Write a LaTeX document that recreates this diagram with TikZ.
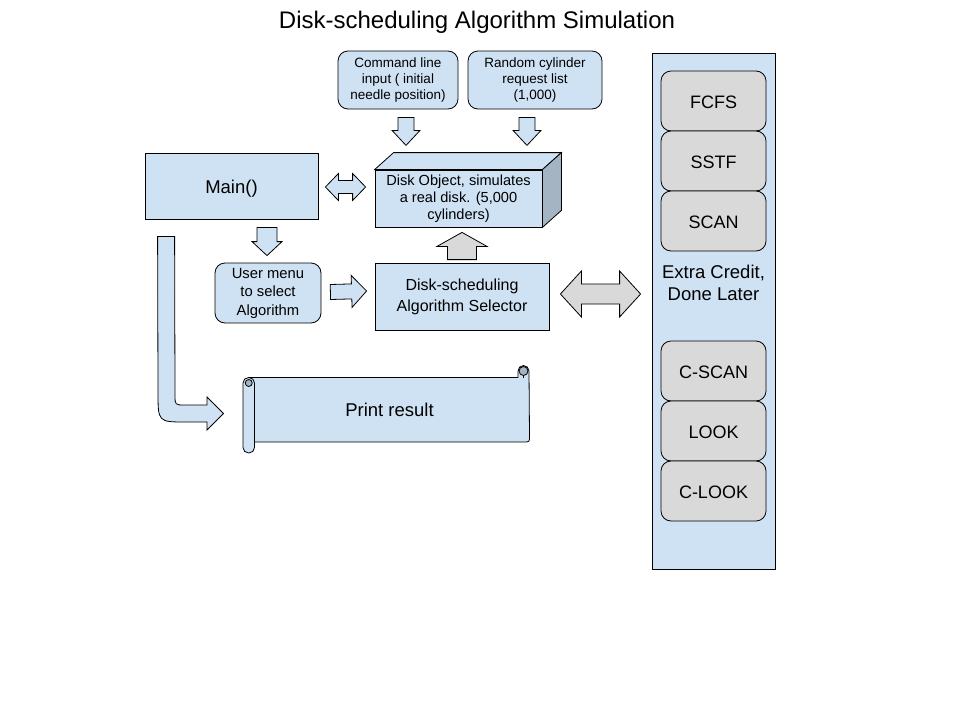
\documentclass[tikz,border=0pt]{standalone}
\usepackage{fontspec}
\setmainfont{Liberation Sans}
\usetikzlibrary{calc}
\definecolor{lblue}{HTML}{CFE2F3}
\definecolor{lgray}{HTML}{D9D9D9}
\definecolor{sideblue}{HTML}{A4B4C3}
\newcommand\blockarrow[6]{% style, from, to, shaft half, head half, head length
  \path[#1] let \p1=(#2), \p2=(#3), \n1={atan2(\y2-\y1,\x2-\x1)}, \n2={veclen(\x2-\x1,\y2-\y1)} in
    [shift={(\p1)}, rotate=\n1] (0,-#4) -- ({\n2-#6},-#4) -- ({\n2-#6},-#5) -- (\n2,0) -- ({\n2-#6},#5) -- ({\n2-#6},#4) -- (0,#4) -- cycle;}
\newcommand\dblockarrow[6]{% style, from, to, shaft half, head half, head length
  \path[#1] let \p1=(#2), \p2=(#3), \n1={atan2(\y2-\y1,\x2-\x1)}, \n2={veclen(\x2-\x1,\y2-\y1)} in
    [shift={(\p1)}, rotate=\n1] (0,0) -- (#6,-#5) -- (#6,-#4) -- ({\n2-#6},-#4) -- ({\n2-#6},-#5) -- (\n2,0) -- ({\n2-#6},#5) -- ({\n2-#6},#4) -- (#6,#4) -- (#6,#5) -- cycle;}
\begin{document}
\begin{tikzpicture}[x=1pt,y=-1pt,
  every node/.style={inner sep=0pt, align=center, font=\fontsize{14.5}{17}\selectfont},
  oneline/.style={text height=#1, text depth=0pt},
  sq/.style={draw=black, fill=lblue, line width=0.8pt},
  rbox/.style={sq, rounded corners=10pt},
  gbox/.style={draw=black, fill=lgray, line width=0.8pt, rounded corners=10pt, minimum width=105pt, minimum height=60pt, font=\fontsize{18}{20}\selectfont, oneline=14.5pt},
  barrow/.style={draw=black, fill=lblue, line width=0.8pt, line join=miter},
  garrow/.style={draw=black, fill=lgray, line width=0.8pt, line join=miter}]
\useasboundingbox (0,0) rectangle (960,720);
\fill[white] (0,0) rectangle (960,720);

\node[font=\fontsize{24}{28}\selectfont] (title) at (477,22) {Disk-scheduling Algorithm Simulation};

\node[rbox, minimum width=120pt, minimum height=58pt, font=\fontsize{13.5}{16}\selectfont] (cmd) at (398,80) {Command line\\input ( initial\\needle position)};
\node[rbox, minimum width=134pt, minimum height=58pt, font=\fontsize{13.5}{16}\selectfont] (rand) at (535,80) {Random cylinder\\request list\\(1,000)};

\node[sq, minimum width=173pt, minimum height=66pt, font=\fontsize{18.5}{20}\selectfont, oneline=15pt] (main) at (231.5,186) {Main()};

% disk cube
\node[sq, minimum width=167pt, minimum height=57pt, font=\fontsize{14.6}{17}\selectfont] (disk) at (458.5,198.5) {Disk Object, simulates\\a real disk. (5,000\\cylinders)};
\draw[sq, line join=miter] (disk.north west) -- ++(19,-17) -- ($(disk.north east)+(19,-17)$) -- (disk.north east) -- cycle;
\draw[line width=0.8pt, fill=sideblue, line join=miter] (disk.north east) -- ++(19,-17) -- ($(disk.south east)+(19,-17)$) -- (disk.south east) -- cycle;

\node[rbox, minimum width=106pt, minimum height=60pt, font=\fontsize{14.8}{18.5}\selectfont] (menu) at (268,293) {User menu\\to select\\Algorithm};
\node[sq, minimum width=174pt, minimum height=67pt, font=\fontsize{16}{21}\selectfont] (sel) at (462,296.5) {Disk-scheduling\\Algorithm Selector};

% right panel
\node[sq, minimum width=123pt, minimum height=516pt] (panel) at (713.5,311) {};
\node[gbox] (fcfs) at (713.5,101) {FCFS};
\node[gbox] (sstf) at (713.5,161) {SSTF};
\node[gbox] (scan) at (713.5,221) {SCAN};
\node[font=\fontsize{18.5}{22}\selectfont] (extra) at (713.5,283) {Extra Credit,\\Done Later};
\node[gbox] (cscan) at (713.5,371) {C-SCAN};
\node[gbox] (look) at (713.5,431) {LOOK};
\node[gbox] (clook) at (713.5,491) {C-LOOK};

% print result scroll
\node[minimum width=275pt, minimum height=65pt] (print) at (391.5,409.5) {};
\draw[sq, line join=round] (249,377.5) -- (518,377.5) -- (518,371) arc (180:360:5.5) -- (529.5,436) .. controls (529.5,442) .. (523.5,442) -- (254,442) -- cycle;
\draw[line width=0.8pt, fill=sideblue] (523.5,371) circle (4.5);
\draw[line width=0.8pt] (523.5,375.5) -- (523.5,377.5);
\draw[sq, rounded corners=5.5pt] (243,377.5) rectangle (254.5,453);
\draw[line width=0.8pt, fill=sideblue] (248.75,383) circle (3.5);
\node[font=\fontsize{18.5}{20}\selectfont, oneline=13.5pt] (printtext) at ($(print.center)+(-2,0)$) {Print result};

% block arrows
\blockarrow{barrow}{$(cmd.south)+(8,8)$}{$(cmd.south)+(8,36)$}{8}{14}{15}
\blockarrow{barrow}{$(rand.south)+(-8,8)$}{$(rand.south)+(-8,36)$}{8}{14}{15}
\dblockarrow{barrow}{$(main.east)+(7,1)$}{$(disk.west)+(-9,-11.5)$}{6.5}{13.5}{13}
\blockarrow{barrow}{$(main.south)+(35.5,8)$}{$(menu.north)+(-1,-7)$}{10}{15}{14}
\blockarrow{barrow}{$(menu.east)+(9,-1)$}{$(sel.west)+(-8,-5.5)$}{7.5}{16}{15}
\blockarrow{garrow}{$(sel.north)+(0,-3)$}{$(disk.south)+(3.5,5)$}{14.5}{25}{14}
\dblockarrow{garrow}{$(sel.east)+(11,-2.5)$}{$(panel.west)+(-11,-17)$}{10}{23}{21}

% bent arrow main -> print
\coordinate (bend) at ($(main.south west)+(13,17)$);
\draw[barrow] (bend) -- ++(17,0) -- (175,395) .. controls (175,405) .. (185,405) -- (207,405) -- (207,397) -- (223.5,413.5) -- (207,430) -- (207,422) -- (186,422) .. controls (158,422) .. (158,392) -- cycle;
\end{tikzpicture}
\end{document}
